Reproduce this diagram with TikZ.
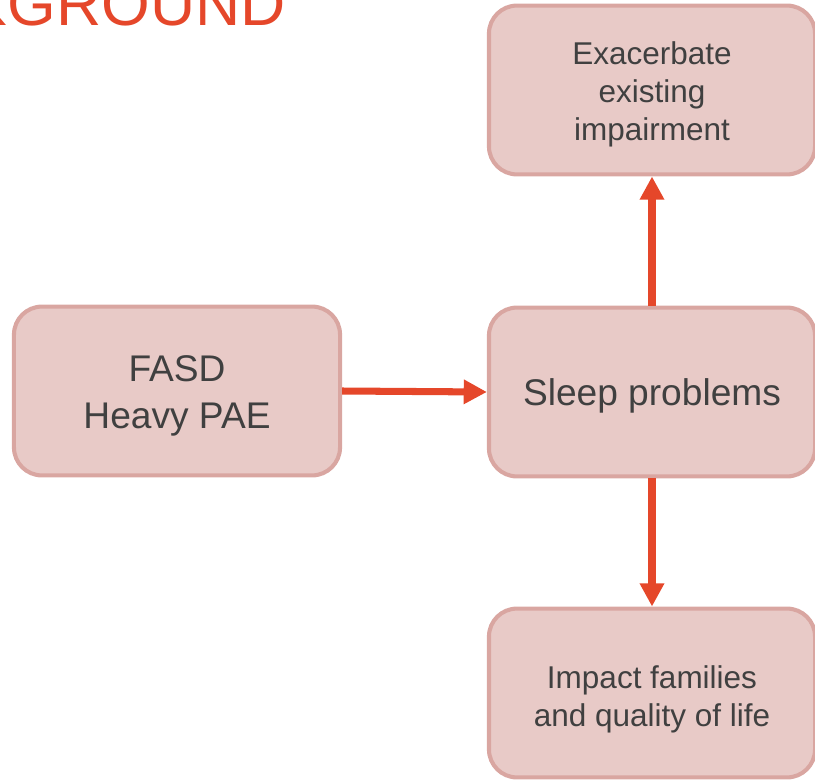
\documentclass[tikz,border=0pt]{standalone}
\usepackage{fontspec}
\setmainfont{Liberation Sans}
\usetikzlibrary{arrows.meta,calc,positioning}
\definecolor{boxfill}{HTML}{E8CAC7}
\definecolor{boxrule}{HTML}{D9A6A1}
\definecolor{ink}{HTML}{404040}
\definecolor{accent}{HTML}{E5472A}

\begin{document}
\begin{tikzpicture}[
  x=0.025cm,y=-0.025cm,
  text=ink,
  box/.style={draw=boxrule, line width=2.9pt, rounded corners=0.7cm,
    fill=boxfill, inner sep=0pt, minimum width=8.15cm, minimum height=4.22cm},
  bigtext/.style={align=center, inner sep=0pt, font=\fontsize{26.4}{33.2}\selectfont},
  smalltext/.style={align=center, inner sep=0pt, font=\fontsize{22.4}{27}\selectfont},
  flow/.style={-{Triangle[length=0.58cm,width=0.58cm]}, line width=5pt, draw=accent},
  heading/.style={font=\fontsize{44.5}{52}\selectfont, text=accent, anchor=base west, inner sep=0pt}
]
\useasboundingbox (0,0) rectangle (815,781);
\clip (0,0) rectangle (815,781);

% Title (cut by the page edge)
\node[heading] (title) at (-34.5,26) {KGROUND};

% Boxes
\node[box] (fasd) at (177,391) {};
\node[box] (sleep) at (652,392) {};
\node[box] (impair) at (652,90) {};
\node[box] (impact) at (652,693) {};

% Box texts
\node[bigtext] (fasdtext) at ($(fasd)+(0,4.6)$) {FASD\\Heavy PAE};
\node[bigtext] (sleeptext) at ($(sleep)+(0,3.6)$) {Sleep problems};
\node[smalltext] (impairtext) at ($(impair)+(0,4.0)$) {Exacerbate\\existing\\impairment};
\node[smalltext] (impacttext) at ($(impact)+(0,6.0)$) {Impact families\\and quality of life};

% Arrows
\draw[flow] (fasd.east) -- (sleep.west);
\draw[flow] (sleep.north) -- (impair.south);
\draw[flow] (sleep.south) -- (impact.north);

\end{tikzpicture}
\end{document}
